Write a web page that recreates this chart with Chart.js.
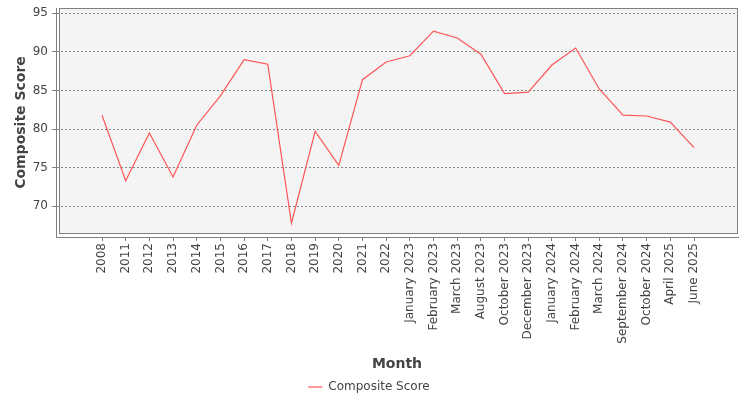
<!DOCTYPE html>
<html>
<head>
<meta charset="utf-8">
<script src="https://cdn.jsdelivr.net/npm/chart.js@4"></script>
<style>
  html, body { margin: 0; padding: 0; background: #fff; }
  #wrap { width: 750px; height: 400px; }
</style>
</head>
<body>
<div id="wrap"><canvas id="scoreChart"></canvas></div>
<script>
const months = ['2008', '2011', '2012', '2013', '2014', '2015', '2016', '2017', '2018', '2019', '2020', '2021', '2022',
    'January 2023', 'February 2023', 'March 2023', 'August 2023', 'October 2023', 'December 2023',
    'January 2024', 'February 2024', 'March 2024', 'September 2024', 'October 2024', 'April 2025', 'June 2025'];
const scores = [81.8, 73.3, 79.5, 73.8, 80.5, 84.3, 89.0, 88.4, 67.8, 79.7, 75.3, 86.4, 88.7,
    89.5, 92.7, 91.8, 89.7, 84.6, 84.8, 88.3, 90.5, 85.2, 81.8, 81.7, 80.9, 77.6];
const yTicks = [70, 75, 80, 85, 90, 95];

const font = 'DejaVu Sans';
const lineRed = 'rgb(255,85,85)';

// plot box like the java chart: grey fill, sits 3px inside the axis lines
const plotBox = {
    id: 'plotBox',
    beforeDraw: chart => {
        const a = chart.chartArea;
        const ctx = chart.ctx;
        ctx.save();
        ctx.fillStyle = '#f4f4f4';
        ctx.fillRect(a.left + 3, a.top, a.right - a.left - 3, a.bottom - 3 - a.top);
        ctx.strokeStyle = '#808080';
        ctx.lineWidth = 1;
        ctx.strokeRect(a.left + 3.5, a.top + 0.5, a.right - a.left - 4, a.bottom - 4 - a.top);
        ctx.restore();
    }
};

const data = {
    datasets: [{
        label: 'Composite Score',
        data: scores.map((v, i) => ({ x: i, y: v })),
        borderColor: lineRed,
        backgroundColor: lineRed,
        borderWidth: 1.2,
        pointRadius: 0,
        tension: 0
    }]
};

const config = {
    type: 'line',
    data: data,
    options: {
        responsive: true,
        maintainAspectRatio: false,
        animation: false,
        // negative bottom pushes the legend a few px lower
        layout: { padding: { top: 8, right: 12, left: 0, bottom: -3 } },
        plugins: {
            legend: {
                position: 'bottom',
                labels: {
                    usePointStyle: true,
                    pointStyle: 'line',
                    pointStyleWidth: 14,
                    padding: 2,
                    color: '#444',
                    font: { family: font, size: 12 }
                }
            },
            tooltip: { enabled: false }
        },
        scales: {
            x: {
                type: 'linear',
                min: -1.943,
                max: 26.858,
                afterBuildTicks: scale => {
                    scale.ticks = months.map((m, i) => ({ value: i }));
                },
                afterFit: scale => {
                    scale.height = 142;
                    scale.paddingLeft = 0;
                    scale.paddingRight = 0;
                },
                ticks: {
                    autoSkip: false,
                    minRotation: 90,
                    maxRotation: 90,
                    padding: 2,
                    color: '#444',
                    font: { family: font, size: 12 },
                    callback: v => months[v]
                },
                grid: {
                    drawOnChartArea: false,
                    drawTicks: true,
                    tickLength: 4,
                    tickColor: '#808080'
                },
                border: { display: true, color: '#808080' },
                title: {
                    display: true,
                    text: 'Month',
                    color: '#444',
                    font: { family: font, size: 14, weight: 'bold' },
                    padding: { top: 0, bottom: 6.5 }
                }
            },
            y: {
                min: 66.02,
                max: 95.69,
                afterBuildTicks: scale => {
                    scale.ticks = yTicks.map(v => ({ value: v }));
                },
                afterFit: scale => {
                    scale.width = 56;
                    scale.paddingTop = 0;
                    scale.paddingBottom = 0;
                },
                ticks: {
                    padding: 4,
                    color: '#444',
                    font: { family: font, size: 12 }
                },
                grid: {
                    color: '#888',
                    tickLength: 4,
                    tickColor: '#808080',
                    tickBorderDash: []
                },
                // v4: border.dash dashes the grid lines
                border: { display: true, color: '#808080', dash: [2, 2] },
                title: {
                    display: true,
                    text: 'Composite Score',
                    color: '#444',
                    font: { family: font, size: 14, weight: 'bold' },
                    padding: { top: 13, bottom: 0 }
                }
            }
        }
    },
    plugins: [plotBox]
};

const scoreChart = new Chart(document.getElementById('scoreChart'), config);
</script>
</body>
</html>
